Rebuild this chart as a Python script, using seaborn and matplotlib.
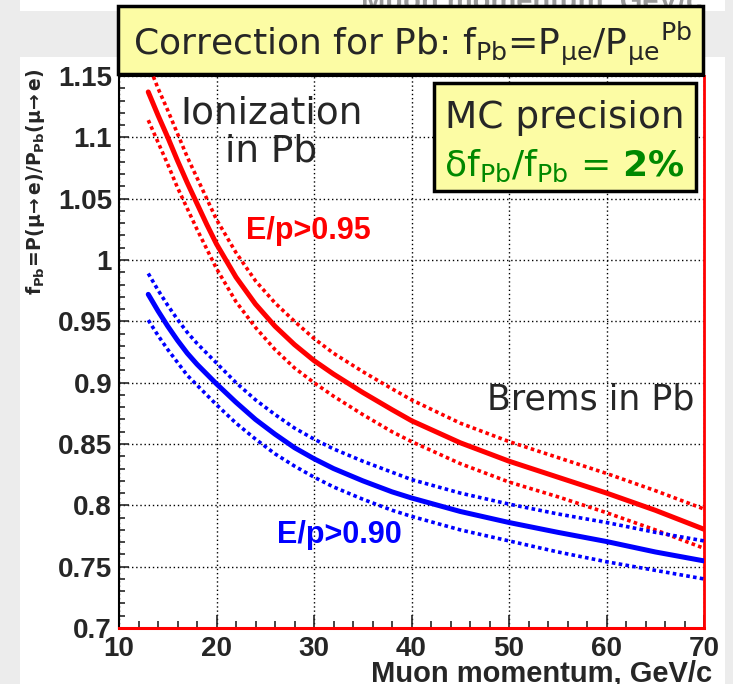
import numpy as np
import pandas as pd
import matplotlib
matplotlib.use("Agg")
import matplotlib.pyplot as plt
import seaborn as sns
from matplotlib.patches import Rectangle
from matplotlib.ticker import MultipleLocator, FixedLocator, FixedFormatter

# ---------------- data ----------------
momentum = [13, 14, 15, 16, 17, 18, 19, 20, 22, 24, 26, 28, 30, 32, 35, 38, 40, 45, 50, 55, 60, 65, 70]

red_mid = [1.137, 1.118, 1.100, 1.081, 1.063, 1.046, 1.029, 1.013, 0.986, 0.964, 0.946, 0.931,
           0.918, 0.907, 0.892, 0.878, 0.869, 0.851, 0.836, 0.823, 0.810, 0.796, 0.7805]
red_up = [1.160, 1.140, 1.122, 1.103, 1.084, 1.067, 1.050, 1.033, 1.006, 0.983, 0.965, 0.950,
          0.936, 0.924, 0.909, 0.895, 0.886, 0.867, 0.852, 0.839, 0.826, 0.812, 0.797]
red_lo = [1.114, 1.096, 1.078, 1.059, 1.042, 1.025, 1.009, 0.993, 0.966, 0.945, 0.927, 0.912,
          0.900, 0.889, 0.874, 0.860, 0.852, 0.834, 0.819, 0.807, 0.794, 0.780, 0.765]

blue_mid = [0.972, 0.9585, 0.946, 0.9345, 0.924, 0.915, 0.907, 0.899, 0.884, 0.870, 0.858, 0.847,
            0.838, 0.830, 0.820, 0.811, 0.806, 0.795, 0.786, 0.778, 0.7705, 0.762, 0.7547]
blue_up = [0.989, 0.9755, 0.963, 0.9515, 0.941, 0.932, 0.924, 0.916, 0.900, 0.886, 0.874, 0.863,
           0.854, 0.846, 0.836, 0.827, 0.821, 0.810, 0.801, 0.793, 0.786, 0.778, 0.771]
blue_lo = [0.951, 0.9385, 0.927, 0.9165, 0.906, 0.898, 0.890, 0.882, 0.867, 0.854, 0.842, 0.832,
           0.823, 0.815, 0.805, 0.796, 0.791, 0.780, 0.771, 0.762, 0.754, 0.747, 0.740]

x_ticks = [10, 20, 30, 40, 50, 60, 70]
x_tick_labels = ["10", "20", "30", "40", "50", "60", "70"]
y_ticks = [0.7, 0.75, 0.8, 0.85, 0.9, 0.95, 1.0, 1.05, 1.1, 1.15]
y_tick_labels = ["0.7", "0.75", "0.8", "0.85", "0.9", "0.95", "1", "1.05", "1.1", "1.15"]

# ---------------- style ----------------
sns.set_style("ticks")
plt.rcParams["font.family"] = ["DejaVu Sans"]
plt.rcParams["mathtext.fontset"] = "dejavusans"

W, H = 733, 684
fig = plt.figure(figsize=(W / 100, H / 100), dpi=100, facecolor="#ececec")


def fx(px):
    return px / W


def fy(py):
    return 1 - py / H


# white canvas areas
fig.patches.append(Rectangle((fx(20), 0), (725 - 20) / W, (H - 57) / H, transform=fig.transFigure,
                             facecolor="white", edgecolor="none", zorder=-5))
fig.patches.append(Rectangle((fx(20), fy(10.7)), (725 - 20) / W, 10.7 / H, transform=fig.transFigure,
                             facecolor="white", edgecolor="none", zorder=-5))
# clipped label of the plot above
fig.text(fx(702), fy(9), "Muon momentum, GeV/c", ha="right", va="baseline", fontsize=21,
         fontweight="bold", family="Liberation Sans", color="#9a9a9a", zorder=-4)

ax = fig.add_axes([fx(119), fy(628), (704 - 119) / W, (628 - 76) / H])
ax.set_facecolor("white")

red = "#ff0000"
blue = "#0000ff"
dot = (0, (1.0, 0.9))

sns.lineplot(x=momentum, y=red_up, color=red, lw=2.6, ls=dot, ax=ax, zorder=3)
sns.lineplot(x=momentum, y=red_lo, color=red, lw=2.6, ls=dot, ax=ax, zorder=3)
sns.lineplot(x=momentum, y=red_mid, color=red, lw=3.6, ax=ax, zorder=4)
sns.lineplot(x=momentum, y=blue_up, color=blue, lw=2.6, ls=dot, ax=ax, zorder=3)
sns.lineplot(x=momentum, y=blue_lo, color=blue, lw=2.6, ls=dot, ax=ax, zorder=3)
sns.lineplot(x=momentum, y=blue_mid, color=blue, lw=3.6, ax=ax, zorder=4)

ax.set_xlim(10, 70)
ax.set_ylim(0.7, 1.15)
ax.xaxis.set_major_locator(FixedLocator(x_ticks))
ax.xaxis.set_major_formatter(FixedFormatter(x_tick_labels))
ax.xaxis.set_minor_locator(MultipleLocator(2))
ax.yaxis.set_major_locator(FixedLocator(y_ticks))
ax.yaxis.set_major_formatter(FixedFormatter(y_tick_labels))
ax.yaxis.set_minor_locator(MultipleLocator(0.01))

ax.grid(True, which="major", color="black", ls=(0, (1, 2)), lw=1.0)
ax.set_axisbelow(True)

ax.tick_params(axis="x", which="major", direction="in", length=9.5, width=1.2, pad=6,
               labelsize=20, top=False)
ax.tick_params(axis="x", which="minor", direction="in", length=5, width=1.2, top=False)
ax.tick_params(axis="y", which="major", direction="in", length=7.5, width=1.2, pad=5,
               labelsize=20, right=False)
ax.tick_params(axis="y", which="minor", direction="in", length=4.5, width=1.2, right=False)
for lab in ax.get_xticklabels() + ax.get_yticklabels():
    lab.set_fontweight("bold")
    lab.set_family("Liberation Sans")

for s in ["left", "top"]:
    ax.spines[s].set_color("black")
    ax.spines[s].set_linewidth(1.5)
ax.spines["right"].set_color(red)
ax.spines["right"].set_linewidth(2.0)
ax.spines["bottom"].set_color(red)
ax.spines["bottom"].set_linewidth(2.2)
ax.set_xlabel("")
ax.set_ylabel("")

# axis titles
fig.text(fx(712), fy(681), "Muon momentum, GeV/c", ha="right", va="baseline", fontsize=21,
         fontweight="bold", family="Liberation Sans")
fig.text(fx(36), fy(182), r"$\mathbf{f_{Pb}\!=\!P(\mu\!\rightarrow e)/P_{Pb}(\mu\!\rightarrow e)}$",
         rotation=90, ha="center", va="center", fontsize=13.5)

# in-plot labels
ax.text(25.6, 1.104, "Ionization\nin Pb", ha="center", va="center", fontsize=27,
        linespacing=1.05, zorder=6)
ax.text(23.0, 1.024, "E/p>0.95", color=red, ha="left", va="center", fontsize=22,
        fontweight="bold", family="Liberation Sans", zorder=6)
ax.text(58.4, 0.886, "Brems in Pb", ha="center", va="center", fontsize=25, zorder=6)
ax.text(26.2, 0.776, "E/p>0.90", color=blue, ha="left", va="center", fontsize=22,
        fontweight="bold", family="Liberation Sans", zorder=6)

# title box
fig.patches.append(Rectangle((fx(118), fy(74)), (703 - 118) / W, (74 - 5.5) / H,
                             transform=fig.transFigure, facecolor="#fcfca4", edgecolor="black",
                             lw=2.5, zorder=10))
fig.text(fx(412), fy(55),
         r"Correction for Pb: f$_{\mathregular{Pb}}$=P$_{\mathregular{\mu e}}$/P$_{\mathregular{\mu e}}$$^{\mathregular{Pb}}$",
         ha="center", va="baseline", fontsize=26, zorder=11)

# MC precision box
fig.patches.append(Rectangle((fx(434), fy(191)), (696 - 434) / W, (191 - 83) / H,
                             transform=fig.transFigure, facecolor="#fcfca4", edgecolor="black",
                             lw=2.5, zorder=10))
fig.text(fx(565), fy(128), "MC precision", ha="center", va="baseline", fontsize=27, zorder=11)
fig.text(fx(564), fy(176),
         r"$\mathregular{\delta}$f$_{\mathregular{Pb}}$/f$_{\mathregular{Pb}}$ = $\mathbf{2\%}$",
         ha="center", va="baseline", fontsize=26, color="#008800", zorder=11)

fig.savefig("out.png", dpi=100, facecolor=fig.get_facecolor())
